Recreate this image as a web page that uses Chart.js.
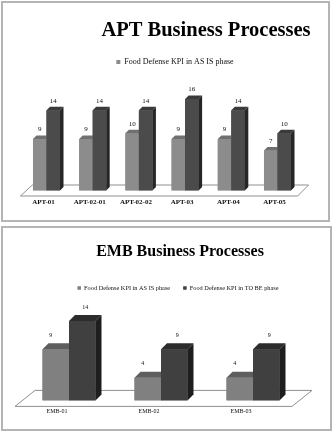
<!DOCTYPE html>
<html>
<head>
<meta charset="utf-8">
<script src="https://cdn.jsdelivr.net/npm/chart.js@4/dist/chart.umd.min.js"></script>
<style>
  html, body { margin: 0; padding: 0; background: #fff; }
  body { width: 335px; height: 435px; position: relative; overflow: hidden; }
  .panel { position: absolute; box-sizing: border-box; border: 2px solid #b4b4b4; background: #fff; }
  #p1 { left: 1px; top: 1px; width: 329px; height: 221px; }
  #p2 { left: 1px; top: 226px; width: 331px; height: 205px; }
  canvas { display: block; }
</style>
</head>
<body>
<div class="panel" id="p1"><canvas id="c1" width="325" height="217"></canvas></div>
<div class="panel" id="p2"><canvas id="c2" width="327" height="201"></canvas></div>
<script>
// ---- data ----
const seriesNames = ['Food Defense KPI in AS IS phase', 'Food Defense KPI in TO BE phase'];
const aptCategories = ['APT-01', 'APT-02-01', 'APT-02-02', 'APT-03', 'APT-04', 'APT-05'];
const aptAsIs = [9, 9, 10, 9, 9, 7];
const aptToBe = [14, 14, 14, 16, 14, 10];
const embCategories = ['EMB-01', 'EMB-02', 'EMB-03'];
const embAsIs = [9, 4, 4];
const embToBe = [14, 9, 9];

const SERIF = "'Liberation Serif', 'Times New Roman', serif";

// shift title / legend boxes horizontally (layout only)
const boxShift = {
  id: 'boxShift',
  afterLayout(chart, args, opts) {
    if (chart.titleBlock && opts.title) { chart.titleBlock.left += opts.title; chart.titleBlock.right += opts.title; }
    if (chart.legend && opts.legend) { chart.legend.left += opts.legend; chart.legend.right += opts.legend; }
  }
};

// 3D faces, floor and value labels, all derived from the bar elements
const bar3d = {
  id: 'bar3d',
  beforeDatasetsDraw(chart, args, o) {
    const {ctx, chartArea: a} = chart;
    const el = chart.getDatasetMeta(0).data[0];
    if (!el) return;
    const B = el.getProps(['base'], true).base;
    const f = o.floor;
    ctx.save();
    ctx.beginPath();
    ctx.moveTo(a.left + f.bl, B - f.back);
    ctx.lineTo(a.right + f.br, B - f.back);
    ctx.lineTo(a.right + f.fr, B + f.front);
    ctx.lineTo(a.left + f.fl, B + f.front);
    ctx.closePath();
    ctx.fillStyle = '#ffffff';
    ctx.fill();
    ctx.strokeStyle = '#8f8f8f';
    ctx.lineWidth = 1;
    ctx.stroke();
    ctx.restore();
  },
  afterDatasetsDraw(chart, args, o) {
    const ctx = chart.ctx;
    const d = o.depth;
    ctx.save();
    const labels = [];
    chart.data.datasets.forEach((ds, i) => {
      const meta = chart.getDatasetMeta(i);
      const c = o.colors[i];
      meta.data.forEach((el, j) => {
        const {x, y, base, width} = el.getProps(['x', 'y', 'base', 'width'], true);
        const l = x - width / 2, r = x + width / 2;
        ctx.fillStyle = c.front;
        ctx.fillRect(l, y, width, base - y);
        ctx.beginPath();
        ctx.moveTo(l, y); ctx.lineTo(l + d, y - d); ctx.lineTo(r + d, y - d); ctx.lineTo(r, y);
        ctx.closePath();
        ctx.fillStyle = c.top; ctx.fill();
        ctx.beginPath();
        ctx.moveTo(r, y); ctx.lineTo(r + d, y - d); ctx.lineTo(r + d, base - d); ctx.lineTo(r, base);
        ctx.closePath();
        ctx.fillStyle = c.side; ctx.fill();
        labels.push({text: String(ds.data[j]), x: x + o.labelDx[i], y: y - o.labelDy});
      });
    });
    ctx.fillStyle = '#111';
    ctx.font = o.labelFont;
    ctx.textAlign = 'center';
    ctx.textBaseline = 'middle';
    labels.forEach(t => ctx.fillText(t.text, t.x, t.y));
    ctx.restore();
  }
};

function makeChart(id, cfg) {
  return new Chart(document.getElementById(id), {
    type: 'bar',
    data: {
      labels: cfg.categories,
      datasets: [
        {label: seriesNames[0], data: cfg.asIs, backgroundColor: cfg.colors[0].front, borderWidth: 0},
        {label: seriesNames[1], data: cfg.toBe, backgroundColor: cfg.colors[1].front, borderWidth: 0}
      ]
    },
    options: {
      responsive: false,
      animation: false,
      devicePixelRatio: 1,
      datasets: {bar: {barPercentage: 1.0, categoryPercentage: cfg.catPct}},
      layout: {padding: cfg.padding},
      scales: {
        x: {
          grid: {display: false, drawTicks: false},
          border: {display: false},
          ticks: {color: '#111', font: cfg.tickFont, padding: cfg.tickPad, labelOffset: cfg.labelOffset, maxRotation: 0, autoSkip: false}
        },
        y: {display: false, min: 0, max: cfg.yMax}
      },
      plugins: {
        tooltip: {enabled: false},
        title: {
          display: true, text: cfg.title, color: '#000',
          font: {family: SERIF, size: cfg.titleSize, weight: 'bold'},
          padding: cfg.titlePad
        },
        legend: {
          display: true, position: 'top',
          labels: {
            color: '#111', font: {family: SERIF, size: cfg.legendSize},
            boxWidth: cfg.legendBox, boxHeight: cfg.legendBox, padding: cfg.legendPad,
            filter: cfg.legendFilter
          }
        },
        boxShift: cfg.shift,
        bar3d: {depth: cfg.depth, colors: cfg.colors, floor: cfg.floor, labelDx: cfg.labelDx, labelDy: cfg.labelDy, labelFont: cfg.labelFont}
      }
    },
    plugins: [boxShift, bar3d]
  });
}

makeChart('c1', {
  categories: aptCategories, asIs: aptAsIs, toBe: aptToBe,
  title: 'APT Business Processes', titleSize: 20.5, titlePad: {top: 15, bottom: 0},
  legendSize: 8, legendBox: 4, legendPad: 15.4,
  legendFilter: (item) => item.datasetIndex === 0,
  padding: {left: 20.4, right: 27.4, top: 0, bottom: 7.1},
  catPct: 0.585, yMax: 20,
  tickFont: {family: SERIF, size: 7, weight: 'bold'}, tickPad: 7, labelOffset: -3,
  shift: {title: 44, legend: 13},
  depth: 3.5,
  colors: [
    {front: '#8c8c8c', top: '#707070', side: '#5c5c5c'},
    {front: '#4b4b4b', top: '#3a3a3a', side: '#262626'}
  ],
  floor: {bl: 9, br: 8, fr: -3, fl: -3, back: 5.5, front: 5.5},
  labelDx: [0, 0], labelDy: 9.5, labelFont: '7px ' + SERIF
});

makeChart('c2', {
  categories: embCategories, asIs: embAsIs, toBe: embToBe,
  title: 'EMB Business Processes', titleSize: 16, titlePad: {top: 14.4, bottom: 10.25},
  legendSize: 6.3, legendBox: 3.5, legendPad: 13,
  legendFilter: () => true,
  padding: {left: 20, right: 31, top: 0, bottom: 6.2},
  catPct: 0.576, yMax: 17.5,
  tickFont: {family: SERIF, size: 6}, tickPad: 7.6, labelOffset: -12,
  shift: {title: 19, legend: 17},
  depth: 6,
  colors: [
    {front: '#808080', top: '#5e5e5e', side: '#4a4a4a'},
    {front: '#404040', top: '#2c2c2c', side: '#1e1e1e'}
  ],
  floor: {bl: 12, br: 13, fr: -7, fl: -8, back: 10, front: 6},
  labelDx: [-5, 3], labelDy: 14, labelFont: '6px ' + SERIF
});
</script>
</body>
</html>
